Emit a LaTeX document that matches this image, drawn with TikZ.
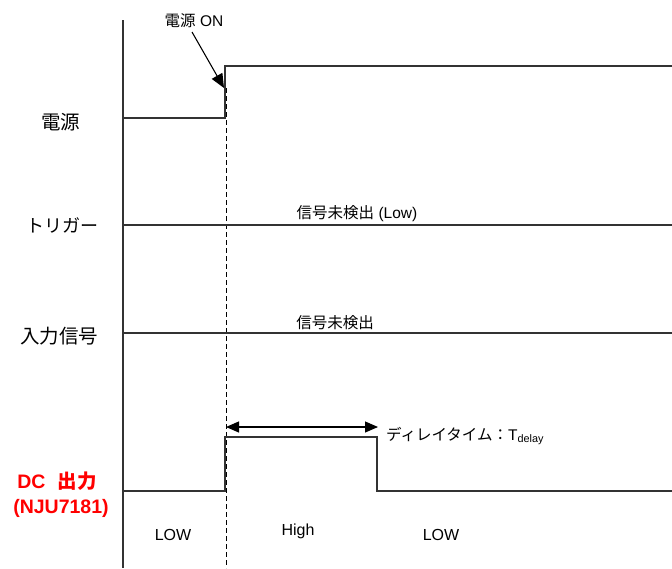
\documentclass[tikz,border=0pt]{standalone}
\usepackage{fontspec}
\setmainfont{Liberation Sans}
\newfontfamily\jp{Noto Sans CJK JP}
\usetikzlibrary{arrows.meta}
\begin{document}
\begin{tikzpicture}[x=1pt,y=-1pt,
  sig/.style={line width=1.3pt,draw=black!80},
  axis/.style={line width=1.3pt,draw=black!80},
  lbl/.style={font=\jp\fontsize{19.5}{22}\selectfont,inner sep=0pt},
  small/.style={font=\fontsize{15.5}{18}\selectfont,inner sep=0pt},
  lev/.style={font=\fontsize{16}{18}\selectfont,inner sep=0pt},
  redlbl/.style={font=\bfseries\fontsize{19.5}{22}\selectfont,text=red,inner sep=0pt},
  tip/.style={-{Triangle[length=14pt,width=12pt]},line width=1.1pt}]
\useasboundingbox (0,0) rectangle (672,568);
% axes
\coordinate (axT) at (123,20);
\coordinate (axB) at (123,568);
\draw[axis] (axT) -- (axB);
\coordinate (dT) at (226,88);
\coordinate (dB) at (226,568);
\draw[line width=1pt,dash pattern=on 5pt off 3pt] (dT) -- (dB);
% power
\coordinate (p0) at (123,118);
\coordinate (p1) at (225,118);
\coordinate (p2) at (225,66);
\coordinate (p3) at (672,66);
\draw[sig] (p0) -- (p1) -- (p2) -- (p3);
\node[lbl] (lpow) at (61,122) {電源};
\node[inner sep=0pt,font=\fontsize{15.5}{18}\selectfont] (on) at (194,21) {{\jp 電源} ON};
\coordinate (onTip) at (224,88);
\draw[tip] (192,32) -- (onTip);
% trigger
\coordinate (t0) at (123,225);
\coordinate (t1) at (672,225);
\draw[sig] (t0) -- (t1);
\node[lbl,font=\jp\fontsize{18}{22}\selectfont] (ltrg) at (62,225) {トリガー};
\node[small] (ttrg) at (357,214) {{\jp 信号未検出} (Low)};
% input
\coordinate (i0) at (123,333);
\coordinate (i1) at (672,333);
\draw[sig] (i0) -- (i1);
\node[lbl] (linp) at (59,336) {入力信号};
\node[small,font=\jp\fontsize{15.5}{18}\selectfont] (tinp) at (335,323) {信号未検出};
% DC output
\coordinate (d0) at (123,491);
\coordinate (d1) at (225,491);
\coordinate (d2) at (225,437);
\coordinate (d3) at (377,437);
\coordinate (d4) at (377,491);
\coordinate (d5) at (672,491);
\draw[sig] (d0) -- (d1) -- (d2) -- (d3) -- (d4) -- (d5);
\node[redlbl] (ldc1) at (57,481) {DC\hspace{12pt}{\jp 出力}};
\node[redlbl] (ldc2) at (61,508) {(NJU7181)};
% delay arrow
\coordinate (a0) at (226,427);
\coordinate (a1) at (378,427);
\draw[{Triangle[length=13pt,width=11pt]}-{Triangle[length=13pt,width=11pt]},line width=1.1pt] (a0) -- (a1);
\node[anchor=west,inner sep=0pt,font=\fontsize{15.5}{18}\selectfont] (tdel) at (386,436) {{\jp ディレイタイム：}T\textsubscript{delay}};
% levels
\node[lev] (lo1) at (173,535) {LOW};
\node[lev] (hi) at (298,531) {High};
\node[lev] (lo2) at (441,535) {LOW};
\end{tikzpicture}
\end{document}
